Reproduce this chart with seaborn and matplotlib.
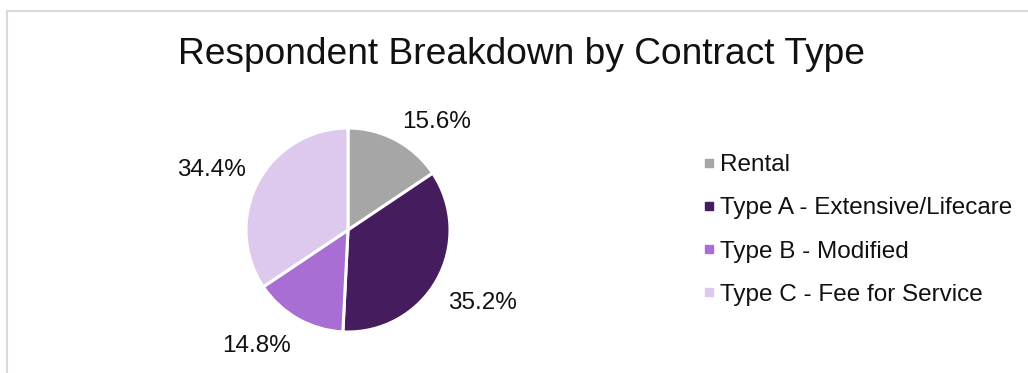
import matplotlib
matplotlib.use("Agg")
import matplotlib.pyplot as plt
from matplotlib.lines import Line2D
import seaborn as sns

categories = ["Rental", "Type A - Extensive/Lifecare", "Type B - Modified", "Type C - Fee for Service"]
shares = [15.6, 35.2, 14.8, 34.4]
colors = ["#A6A6A6", "#451C5E", "#A86ED4", "#DDC8EE"]
title = "Respondent Breakdown by Contract Type"

sns.set_theme(style="white")
plt.rcParams["font.family"] = ["Liberation Sans", "DejaVu Sans"]

W, H = 1028, 373
fig = plt.figure(figsize=(W / 100, H / 100), dpi=100)
fig.patch.set_facecolor("white")

# chart-area frame (top and left edges visible)
fig.add_artist(Line2D([7 / W, 1.0], [1 - 11 / H, 1 - 11 / H], color="#D9D9D9", lw=1.5))
fig.add_artist(Line2D([7 / W, 7 / W], [1 - 11 / H, 0.0], color="#D9D9D9", lw=1.5))

cx, cy, r = 348, 230, 102
ax = fig.add_axes([(cx - r) / W, 1 - (cy + r) / H, 2 * r / W, 2 * r / H])
wedges, texts = ax.pie(
    shares,
    labels=[f"{v:.1f}%" for v in shares],
    colors=colors,
    startangle=90,
    counterclock=False,
    labeldistance=1.13,
    wedgeprops=dict(edgecolor="white", linewidth=2.2),
    textprops=dict(fontsize=17.5, color="#111111"),
)
# anchor each label by its corner nearest the slice (outside-end placement)
for t in texts:
    x, y = t.get_position()
    t.set_ha("left" if x > 0 else "right")
    t.set_va("bottom" if y > 0 else "top")
    t.set_position((x, y - 0.05))
ax.set_xlim(-1, 1)
ax.set_ylim(-1, 1)
ax.set_aspect("equal")
ax.axis("off")

fig.text(522 / W, 1 - 55 / H, title, ha="center", va="center", fontsize=26.7, color="#111111")

handles = [Line2D([], [], marker="s", linestyle="none", markersize=5.2,
                  markerfacecolor=c, markeredgecolor=c) for c in colors]
fig.legend(handles, categories, loc="center left", bbox_to_anchor=(682.5 / W, 1 - 230 / H),
           frameon=False, fontsize=17.5, handlelength=0.41, handletextpad=0.23,
           labelspacing=0.87, labelcolor="#111111")

fig.savefig("out.png", dpi=100, facecolor="white")
